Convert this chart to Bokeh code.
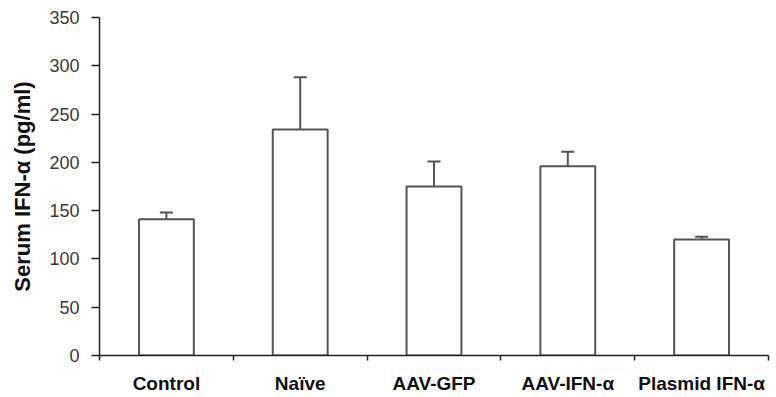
from bokeh.plotting import figure
from bokeh.models import Range1d, FixedTicker, ColumnDataSource, Whisker, TeeHead
from bokeh.embed import file_html
from bokeh.resources import INLINE

categories = ["Control", "Naïve", "AAV-GFP", "AAV-IFN-α", "Plasmid IFN-α"]
means = [141, 234, 175, 196, 120]
errors = [7, 54, 26, 15, 3]
y_ticks = [0, 50, 100, 150, 200, 250, 300, 350]
y_label = "Serum IFN-α (pg/ml)"

xs = [i + 0.5 for i in range(len(categories))]
tops = [m + e for m, e in zip(means, errors)]
src = ColumnDataSource(dict(x=xs, mean=means, top=tops, cat=categories))

p = figure(width=776, height=397, output_backend="svg", toolbar_location=None,
           x_range=Range1d(0, len(categories)), y_range=Range1d(0, 350),
           min_border_left=99, min_border_right=8, min_border_top=17, min_border_bottom=42)
p.outline_line_color = None
p.xgrid.grid_line_color = None
p.ygrid.grid_line_color = None
p.background_fill_color = "white"
p.border_fill_color = "white"

p.vbar(x="x", top="mean", bottom=0, width=0.41, source=src,
       fill_color="white", line_color="#555555", line_width=2)

w = Whisker(base="x", lower="mean", upper="top", source=src, dimension="height",
            line_color="#555555", line_width=2,
            upper_head=TeeHead(size=13, line_color="#555555", line_width=2),
            lower_head=None)
p.add_layout(w)

# y axis
ya = p.yaxis[0]
ya.ticker = FixedTicker(ticks=y_ticks, minor_ticks=[])
ya.axis_line_color = "#222222"
ya.axis_line_width = 1.5
ya.major_tick_line_color = "#222222"
ya.major_tick_line_width = 1.5
ya.major_tick_out = 8
ya.major_tick_in = 0
ya.major_label_standoff = 12
ya.major_label_text_font = "Liberation Sans"
ya.major_label_text_font_size = "18px"
ya.major_label_text_color = "#3a3a3a"
ya.axis_label = y_label
ya.axis_label_text_font = "Liberation Sans"
ya.axis_label_text_font_style = "bold"
ya.axis_label_text_font_size = "22px"
ya.axis_label_text_color = "#111111"
ya.axis_label_standoff = 11

# x axis
xa = p.xaxis[0]
xa.ticker = FixedTicker(ticks=xs, minor_ticks=list(range(len(categories) + 1)))
xa.major_label_overrides = {x: c for x, c in zip(xs, categories)}
xa.axis_line_color = "#222222"
xa.axis_line_width = 1.5
xa.major_tick_out = 0
xa.major_tick_in = 0
xa.minor_tick_out = 5
xa.minor_tick_in = 0
xa.minor_tick_line_color = "#222222"
xa.minor_tick_line_width = 1.5
xa.major_label_standoff = 12
xa.major_label_text_font = "Liberation Sans"
xa.major_label_text_font_style = "bold"
xa.major_label_text_font_size = "19px"
xa.major_label_text_color = "#111111"

open("out.html", "w").write(file_html(p, INLINE))
